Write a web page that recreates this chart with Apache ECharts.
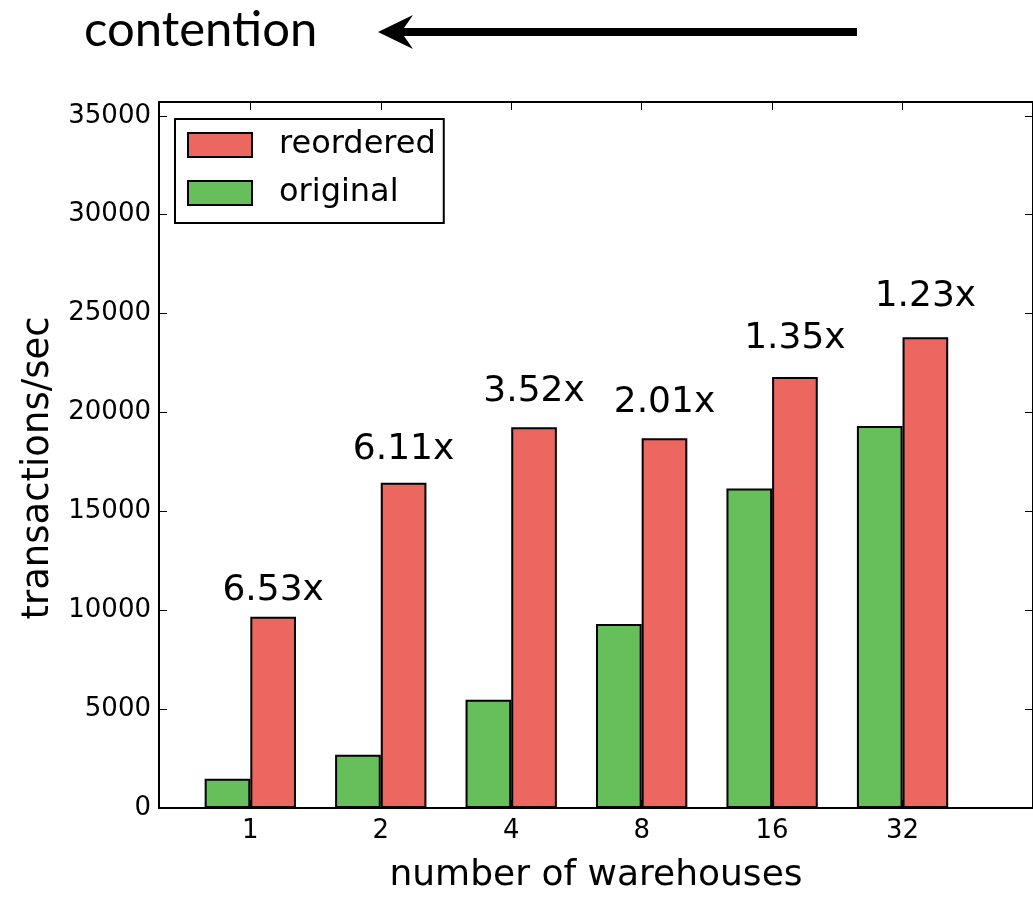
<!DOCTYPE html>
<html><head><meta charset="utf-8">
<script src="https://cdn.jsdelivr.net/npm/echarts@6/dist/echarts.min.js"></script>
<style>html,body{margin:0;padding:0;background:#fff}#c{width:1033px;height:899px}</style>
</head><body><div id="c"></div>
<script>
// ---- data ----
const categories = ['1', '2', '4', '8', '16', '32'];
const originalValues = [1480, 2690, 5470, 9300, 16150, 19320];
const reorderedValues = [9670, 16450, 19250, 18700, 21800, 23800];
const speedupLabels = ['6.53x', '6.11x', '3.52x', '2.01x', '1.35x', '1.23x'];
const yMax = 35700;
const yStep = 5000;
const barOffset = 0.175;      // half of bar width in category units
const labelLift = 1.05;       // labels sit at 1.05 x bar height

const FONT = 'DejaVu Sans';
const RED = '#EC675F';
const GREEN = '#66BF5B';

const tickIdx = categories.map((_, i) => i);

const chart = echarts.init(document.getElementById('c'), null, {renderer: 'canvas'});
chart.setOption({
  backgroundColor: '#fff',
  animation: false,
  textStyle: {fontFamily: FONT, color: '#000'},
  grid: {left: 159, right: -8, top: 102, bottom: 82, containLabel: false},
  legend: {
    data: ['reordered', 'original'],
    orient: 'vertical',
    left: 175, top: 119,
    itemWidth: 64, itemHeight: 24, itemGap: 16,
    borderColor: '#000', borderWidth: 2, borderRadius: 0,
    backgroundColor: '#fff',
    padding: [10, 8, 14, 12],
    icon: 'rect',
    itemStyle: {borderColor: '#000', borderWidth: 2},
    textStyle: {fontFamily: FONT, fontSize: 32, color: '#000', padding: [0, 0, 0, 22]}
  },
  xAxis: [{
    type: 'value', position: 'bottom', min: -0.7, max: 6.0,
    axisLine: {show: true, onZero: false, lineStyle: {color: '#000', width: 2}},
    axisTick: {show: true, inside: true, length: 8, customValues: tickIdx, lineStyle: {color: '#000', width: 1}},
    axisLabel: {show: true, customValues: tickIdx, margin: 10, fontSize: 26, fontFamily: FONT, color: '#000',
      formatter: v => categories[Math.round(v)] ?? ''},
    splitLine: {show: false},
    name: 'number of warehouses', nameLocation: 'middle', nameGap: 50,
    nameTextStyle: {fontSize: 36, fontFamily: FONT, color: '#000'}
  }, {
    type: 'value', position: 'top', min: -0.7, max: 6.0,
    axisLine: {show: true, onZero: false, lineStyle: {color: '#000', width: 2}},
    axisTick: {show: true, inside: true, length: 8, customValues: tickIdx, lineStyle: {color: '#000', width: 1}},
    axisLabel: {show: false},
    splitLine: {show: false}
  }],
  yAxis: [{
    type: 'value', position: 'left', min: 0, max: yMax, interval: yStep,
    axisLine: {show: true, onZero: false, lineStyle: {color: '#000', width: 2}},
    axisTick: {show: true, inside: true, length: 8, lineStyle: {color: '#000', width: 1}},
    axisLabel: {show: true, margin: 8, fontSize: 26, fontFamily: FONT, color: '#000', showMaxLabel: false,
      formatter: v => (v % yStep === 0 ? String(v) : '')},
    splitLine: {show: false},
    name: 'transactions/sec', nameLocation: 'middle', nameRotate: 90, nameGap: 102,
    nameTextStyle: {fontSize: 37, fontFamily: FONT, color: '#000', padding: [0, 26, 0, 0]}
  }, {
    type: 'value', position: 'right', min: 0, max: yMax, interval: yStep,
    axisLine: {show: true, onZero: false, lineStyle: {color: '#000', width: 2}},
    axisTick: {show: true, inside: true, length: 8, lineStyle: {color: '#000', width: 1}},
    axisLabel: {show: false},
    splitLine: {show: false}
  }],
  series: [{
    name: 'original', type: 'bar', xAxisIndex: 0, yAxisIndex: 0,
    data: originalValues.map((v, i) => [i - barOffset, v]),
    barWidth: '100%', barGap: '-100%',
    itemStyle: {color: GREEN, borderColor: '#000', borderWidth: 2}
  }, {
    name: 'reordered', type: 'bar', xAxisIndex: 0, yAxisIndex: 0,
    data: reorderedValues.map((v, i) => [i + barOffset, v]),
    barWidth: '100%', barGap: '-100%',
    itemStyle: {color: RED, borderColor: '#000', borderWidth: 2}
  }, {
    name: 'speedup', type: 'scatter', xAxisIndex: 0, yAxisIndex: 0,
    symbolSize: 2, itemStyle: {color: 'rgba(0,0,0,0)'}, silent: true,
    data: reorderedValues.map((v, i) => [i + barOffset, v * labelLift]),
    label: {show: true, position: 'top', distance: -2, fontSize: 36, lineHeight: 36, fontFamily: FONT,
      color: '#000', opacity: 1, textBorderWidth: 0,
      formatter: p => speedupLabels[p.dataIndex]}
  }],
  graphic: [{
    type: 'text', left: 84, top: 6,
    style: {text: 'contention', font: '49px Lato', fill: '#000'}
  }, {
    type: 'polygon',
    shape: {points: [[378, 32], [413, 15], [404, 28], [857, 28], [857, 36], [404, 36], [413, 49]]},
    style: {fill: '#000'}
  }]
});
</script></body></html>
